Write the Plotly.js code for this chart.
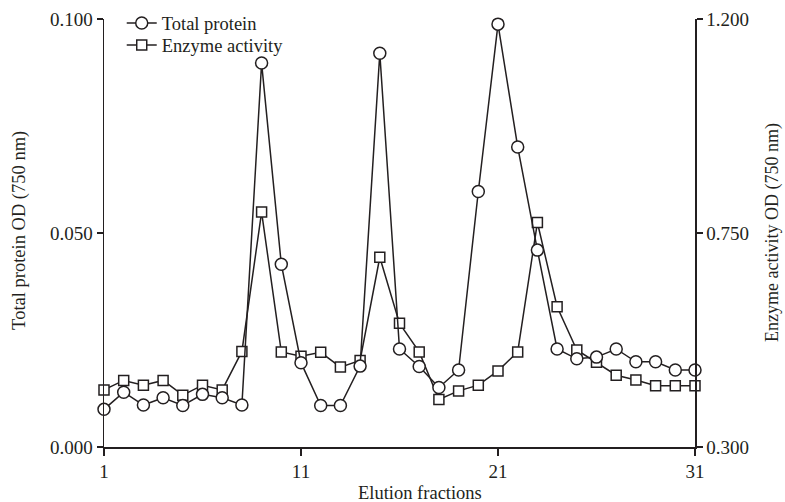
<!DOCTYPE html>
<html>
<head>
<meta charset="utf-8">
<script src="https://cdn.plot.ly/plotly-3.0.1.min.js"></script>
<style>html,body{margin:0;padding:0;background:#fff;}#chart{width:785px;height:502px;}</style>
</head>
<body>
<div id="chart"></div>
<script>
var fractions = [1,2,3,4,5,6,7,8,9,10,11,12,13,14,15,16,17,18,19,20,21,22,23,24,25,26,27,28,29,30,31];
var totalProtein = [0.0088,0.0128,0.0098,0.0115,0.0097,0.0123,0.0115,0.0098,0.0897,0.0427,0.0197,0.0097,0.0097,0.0189,0.0920,0.0229,0.0188,0.0139,0.0180,0.0597,0.0988,0.0701,0.0460,0.0229,0.0206,0.0210,0.0229,0.0199,0.0199,0.0180,0.0180];
var enzymeActivity = [0.420,0.440,0.430,0.440,0.409,0.430,0.420,0.501,0.794,0.500,0.491,0.499,0.468,0.482,0.699,0.560,0.500,0.400,0.418,0.430,0.460,0.500,0.772,0.595,0.504,0.478,0.451,0.441,0.429,0.429,0.429];
var xTicks = [1,11,21,31];
var leftTicks = [0,0.05,0.1];
var rightTicks = [0.3,0.75,1.2];

var ink = '#231f20';
var fontFam = '"Liberation Serif", "Times New Roman", serif';
var legFont = {family: fontFam, size: 18.5, color: ink};

var traces = [
  {
    x: fractions, y: enzymeActivity, yaxis: 'y', name: 'Enzyme activity', legend: 'legend2',
    type: 'scatter', mode: 'lines+markers', cliponaxis: false,
    line: {color: ink, width: 1.5},
    marker: {symbol: 'square', size: 10, color: '#ffffff', line: {color: ink, width: 1.5}}
  },
  {
    x: fractions, y: totalProtein, yaxis: 'y2', name: 'Total protein', legend: 'legend',
    type: 'scatter', mode: 'lines+markers', cliponaxis: false,
    line: {color: ink, width: 1.5},
    marker: {symbol: 'circle', size: 12, color: '#ffffff', line: {color: ink, width: 1.5}}
  }
];

var layout = {
  width: 785, height: 502,
  margin: {l: 104, r: 90, t: 19, b: 55, pad: 0, autoexpand: false},
  paper_bgcolor: '#ffffff', plot_bgcolor: '#ffffff',
  font: {family: fontFam, size: 18, color: ink},
  showlegend: true,
  legend: {x: 0.03, y: 1.034, xanchor: 'left', yanchor: 'top', bgcolor: 'rgba(0,0,0,0)', font: legFont},
  legend2: {x: 0.03, y: 0.9824, xanchor: 'left', yanchor: 'top', bgcolor: 'rgba(0,0,0,0)', font: legFont},
  xaxis: {
    range: [1, 31], tickvals: xTicks, ticktext: xTicks.map(String),
    showline: true, linecolor: ink, linewidth: 1.5, ticks: 'outside', ticklen: 7, tickwidth: 1.5, tickcolor: ink,
    showgrid: false, zeroline: false, tickfont: {family: fontFam, size: 19, color: ink}
  },
  yaxis: {
    range: [0.3, 1.2], side: 'right', tickvals: rightTicks, tickformat: '.3f',
    showline: true, linecolor: ink, linewidth: 1.5, ticks: 'outside', ticklen: 6, tickwidth: 1.5, tickcolor: ink,
    showgrid: false, zeroline: false, tickfont: {family: fontFam, size: 19, color: ink}
  },
  yaxis2: {
    range: [0, 0.1], side: 'left', overlaying: 'y', tickvals: leftTicks, tickformat: '.3f',
    showline: true, linecolor: ink, linewidth: 1.5, ticks: 'outside', ticklen: 6, tickwidth: 1.5, tickcolor: ink,
    showgrid: false, zeroline: false, tickfont: {family: fontFam, size: 19, color: ink}
  },
  annotations: [
    {text: 'Total protein OD (750 nm)', xref: 'paper', yref: 'paper', x: -0.1421, y: 0.505,
     xanchor: 'center', yanchor: 'middle', textangle: -90, showarrow: false,
     font: {family: fontFam, size: 18.5, color: ink}},
    {text: 'Enzyme activity OD (750 nm)', xref: 'paper', yref: 'paper', x: 1.1303, y: 0.5,
     xanchor: 'center', yanchor: 'middle', textangle: -90, showarrow: false,
     font: {family: fontFam, size: 18, color: ink}},
    {text: 'Elution fractions', xref: 'paper', yref: 'paper', x: 0.5347, y: -0.1075,
     xanchor: 'center', yanchor: 'middle', showarrow: false,
     font: {family: fontFam, size: 18.5, color: ink}}
  ]
};

Plotly.newPlot('chart', traces, layout, {displayModeBar: false, staticPlot: true});
</script>
</body>
</html>
